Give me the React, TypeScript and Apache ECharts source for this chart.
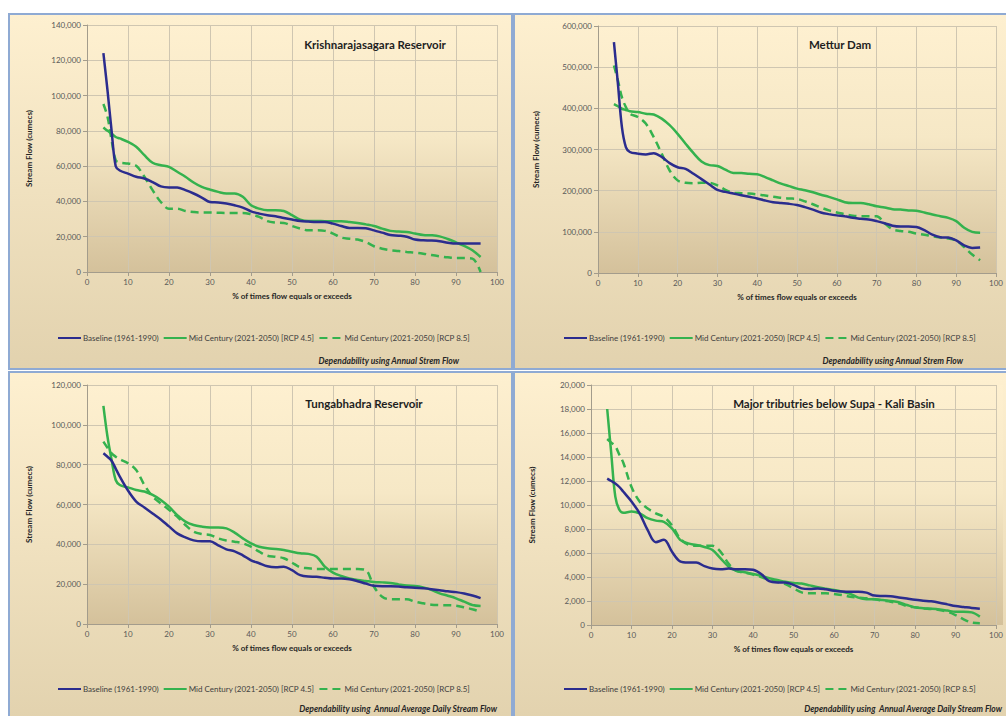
import React, { useEffect, useRef } from "react";
import * as echarts from "echarts";

const XS = [4, 5, 6, 7, 8, 10, 12, 14, 16, 18, 20, 22, 24, 26, 28, 30, 32, 34, 36, 38, 40, 42, 44, 46, 48, 50, 52, 54, 56, 58, 60, 62, 64, 66, 68, 70, 72, 74, 76, 78, 80, 82, 84, 86, 88, 90, 92, 94, 96];

const SERIES_NAMES = ["Baseline (1961-1990)", "Mid Century (2021-2050) [RCP 4.5]", "Mid Century (2021-2050) [RCP 8.5]"];

const TL_TITLE = "Krishnarajasagara Reservoir";
const TL_BASE = [124000, 103000, 80000, 60000, 57500, 55800, 54000, 53000, 51000, 48500, 47900, 47900, 46400, 44500, 42200, 39700, 39400, 38800, 37800, 36500, 34400, 33100, 32200, 31600, 30600, 29700, 28900, 28600, 28400, 28400, 27400, 26100, 25000, 25000, 24800, 23600, 22300, 21000, 20600, 20000, 18400, 18000, 17800, 17400, 16600, 16100, 16100, 16100, 16100];
const TL_RCP45 = [81900, 80000, 78500, 76500, 75700, 73800, 71000, 66200, 61900, 60500, 59600, 56800, 54000, 50700, 48200, 46700, 45400, 44500, 44500, 42600, 37800, 35900, 35000, 35000, 34600, 32200, 29700, 28900, 28900, 28800, 28800, 28800, 28400, 27800, 27000, 26100, 24600, 23300, 22900, 22700, 21800, 21000, 20800, 20200, 18700, 16800, 14800, 12300, 8500];
const TL_RCP85 = [95200, 88000, 74700, 63400, 62000, 61500, 60200, 54000, 46400, 39700, 35900, 35900, 34600, 34000, 33700, 33700, 33600, 33500, 33500, 33500, 32700, 31200, 28800, 28000, 27800, 26100, 24600, 23600, 23600, 23300, 21800, 19500, 18900, 18400, 17000, 14600, 13200, 12300, 11900, 11400, 11000, 10400, 9600, 8900, 8300, 7900, 7900, 7600, 0];

const TR_TITLE = "Mettur Dam";
const TR_BASE = [561000, 460000, 355000, 306000, 294000, 290000, 288000, 291000, 282000, 267000, 257000, 253000, 241000, 228000, 215000, 202000, 197000, 193000, 189000, 185000, 181000, 176000, 172000, 170000, 168000, 165000, 160000, 154000, 147000, 143000, 140000, 138000, 134000, 132000, 130000, 126000, 121000, 115000, 113000, 113000, 112000, 104000, 93000, 87000, 86000, 79000, 67000, 61000, 62000];
const TR_RCP45 = [410000, 405000, 399000, 396000, 393000, 391000, 387000, 385000, 375000, 359000, 338000, 314000, 291000, 271000, 262000, 260000, 251000, 243000, 243000, 241000, 240000, 233000, 225000, 217000, 211000, 205000, 201000, 196000, 190000, 185000, 179000, 172000, 170000, 170000, 167000, 162000, 159000, 155000, 154000, 152000, 151000, 147000, 142000, 138000, 134000, 126000, 110000, 100000, 98000];
const TR_RCP85 = [504000, 468000, 427000, 403000, 387000, 379000, 363000, 330000, 290000, 249000, 225000, 219000, 218000, 219000, 219000, 213000, 202000, 195000, 194000, 193000, 191000, 188000, 185000, 183000, 181000, 180000, 174000, 167000, 159000, 152000, 147000, 143000, 139000, 138000, 138000, 138000, 121000, 106000, 102000, 100000, 96000, 93000, 89000, 86000, 84000, 79000, 63000, 45000, 31000];

const BL_TITLE = "Tungabhadra Reservoir";
const BL_BASE = [85700, 84000, 82000, 78000, 74000, 67000, 61500, 58500, 55500, 52500, 49000, 45500, 43500, 42000, 41500, 41500, 39500, 37500, 36500, 34500, 32000, 30500, 29000, 28500, 28800, 27000, 24500, 23800, 23700, 23200, 22800, 22900, 22500, 21500, 20300, 19200, 19000, 19000, 18800, 18400, 18200, 17900, 17500, 17000, 16400, 16000, 15300, 14300, 13000];
const BL_RCP45 = [109500, 94000, 82400, 72300, 69800, 68600, 67300, 66500, 64800, 62300, 58900, 54700, 51400, 49700, 48900, 48500, 48500, 48000, 45900, 43000, 40500, 38800, 38000, 37700, 37200, 36300, 35500, 35200, 33800, 28800, 25800, 24100, 22900, 22100, 21600, 21100, 20900, 20600, 19900, 19300, 19100, 18400, 17100, 15400, 14200, 12900, 11200, 9500, 9000];
const BL_RCP85 = [91600, 88500, 85700, 84000, 82700, 80700, 77300, 69800, 64000, 60600, 57300, 53900, 49700, 46400, 45200, 44700, 43000, 41900, 41300, 40500, 38800, 36300, 34300, 33800, 33000, 30800, 28500, 28000, 27600, 27600, 27600, 27600, 27600, 27600, 27100, 18700, 13700, 12400, 12400, 12400, 11200, 10400, 9700, 9500, 9400, 9200, 8400, 7400, 6200];

const BR_TITLE = "Major tributries below Supa - Kali Basin";
const BR_BASE = [12200, 12000, 11800, 11500, 11100, 10300, 9300, 7900, 6900, 7100, 6100, 5300, 5200, 5200, 4900, 4700, 4650, 4700, 4650, 4650, 4600, 4250, 3650, 3550, 3550, 3350, 3050, 3000, 3050, 2970, 2860, 2800, 2780, 2780, 2700, 2450, 2420, 2400, 2300, 2200, 2100, 2030, 1970, 1860, 1720, 1580, 1500, 1420, 1360];
const BR_RCP45 = [18000, 14300, 10700, 9600, 9350, 9450, 9300, 8900, 8700, 8600, 8050, 7100, 6800, 6670, 6500, 6250, 5550, 4860, 4500, 4400, 4250, 4100, 3900, 3750, 3600, 3500, 3450, 3300, 3150, 3030, 2920, 2780, 2600, 2280, 2140, 2140, 2080, 2000, 1900, 1670, 1470, 1400, 1360, 1300, 1200, 1100, 1100, 1050, 700];
const BR_RCP85 = [15500, 15200, 14900, 14200, 13500, 11500, 10300, 9700, 9300, 9000, 8300, 7200, 6700, 6600, 6600, 6600, 6100, 5100, 4500, 4360, 4200, 4000, 3750, 3600, 3400, 3050, 2720, 2640, 2640, 2640, 2580, 2500, 2360, 2280, 2220, 2140, 2030, 1940, 1800, 1580, 1470, 1390, 1330, 1250, 1100, 830, 470, 200, 140];

const X_NAME = "% of times flow equals or exceeds";
const Y_NAME = "Stream Flow (cumecs)";
const NOTE_TOP = "Dependability using Annual Strem Flow";
const NOTE_BOTTOM = "Dependability using  Annual Average Daily Stream Flow";

const FONT = "Lato, 'Noto Sans', sans-serif";
const BLUE = "#2B2C8E";
const GREEN = "#34B24E";

type Panel = {
  title: string;
  base: number[];
  r45: number[];
  r85: number[];
  yMax: number;
  yInterval: number;
  grid: { left: number; top: number; width: number; height: number };
  yNameGap: number;
  titlePos: [number, number];
  legendPos: [number, number];
  note: string;
  notePos: [number, number];
  box: [number, number, number, number];
};

const PANELS: Panel[] = [
  { title: TL_TITLE, base: TL_BASE, r45: TL_RCP45, r85: TL_RCP85, yMax: 140000, yInterval: 20000,
    grid: { left: 87, top: 25, width: 410, height: 247 }, yNameGap: 54, titlePos: [375, 44], legendPos: [57, 334],
    note: NOTE_TOP, notePos: [459, 361], box: [9, 14, 503, 355] },
  { title: TR_TITLE, base: TR_BASE, r45: TR_RCP45, r85: TR_RCP85, yMax: 600000, yInterval: 100000,
    grid: { left: 598, top: 26, width: 399, height: 247 }, yNameGap: 58, titlePos: [840, 44], legendPos: [563, 334],
    note: NOTE_TOP, notePos: [963, 361], box: [514, 14, 500, 355] },
  { title: BL_TITLE, base: BL_BASE, r45: BL_RCP45, r85: BL_RCP85, yMax: 120000, yInterval: 20000,
    grid: { left: 87, top: 385, width: 410, height: 239 }, yNameGap: 54, titlePos: [364, 403], legendPos: [57, 685],
    note: NOTE_BOTTOM, notePos: [497, 709], box: [9, 372, 503, 350] },
  { title: BR_TITLE, base: BR_BASE, r45: BR_RCP45, r85: BR_RCP85, yMax: 20000, yInterval: 2000,
    grid: { left: 591, top: 385, width: 412, height: 240 }, yNameGap: 55, titlePos: [834, 403], legendPos: [563, 685],
    note: NOTE_BOTTOM, notePos: [1002, 709], box: [514, 372, 500, 350] },
];

function pairs(vals: number[]) {
  return XS.map((x, i) => [x, vals[i]]);
}

export default function App() {
  const ref = useRef<HTMLDivElement>(null);
  useEffect(() => {
    if (!ref.current) return;
    const chart = echarts.init(ref.current, undefined, { renderer: "svg" });

    const graphics: any[] = [];
    PANELS.forEach((p) => {
      const [bx, by, bw, bh] = p.box;
      graphics.push({
        type: "rect", z: -100, silent: true,
        shape: { x: bx, y: by, width: bw, height: bh },
        style: {
          fill: new echarts.graphic.LinearGradient(0, 0, 0, 1, [
            { offset: 0, color: "#FEF0D0" },
            { offset: 1, color: "#E2D2AE" },
          ]),
          stroke: "#8FAAD3", lineWidth: 2,
        },
      });
      graphics.push({
        type: "rect", z: -90, silent: true,
        shape: { x: p.grid.left, y: p.grid.top, width: p.grid.width, height: p.grid.height },
        style: {
          fill: new echarts.graphic.LinearGradient(0, 0, 0, 1, [
            { offset: 0, color: "#FEF0D0" },
            { offset: 0.45, color: "#F6E8C6" },
            { offset: 1, color: "#D4C19B" },
          ]),
        },
      });
      graphics.push({
        type: "text", z: 10,
        x: p.titlePos[0], y: p.titlePos[1],
        style: { text: p.title, fontFamily: FONT, fontSize: 11.5, fontWeight: "bold", fill: "#1E1E1E", align: "center", verticalAlign: "middle" },
      });
      graphics.push({
        type: "text", z: 10,
        x: p.notePos[0], y: p.notePos[1],
        style: { text: p.note, fontFamily: FONT, fontSize: 8.5, fontWeight: "bold", fontStyle: "italic", fill: "#262626", align: "right", verticalAlign: "middle" },
      });
    });

    const option: any = {
      animation: false,
      backgroundColor: "#FFFFFF",
      textStyle: { fontFamily: FONT },
      graphic: graphics,
      grid: PANELS.map((p) => ({ ...p.grid, containLabel: false })),
      legend: PANELS.map((p) => ({
        left: p.legendPos[0], top: p.legendPos[1],
        orient: "horizontal",
        padding: 0,
        itemWidth: 23, itemHeight: 10, itemGap: 4,
        itemStyle: { opacity: 0 },
        data: SERIES_NAMES,
        textStyle: { fontFamily: FONT, fontSize: 8, color: "#404040", padding: [0, 0, 0, -3] },
        selectedMode: false,
      })),
      xAxis: PANELS.map((p, i) => ({
        type: "value", gridIndex: i, min: 0, max: 100, interval: 10,
        name: X_NAME, nameLocation: "middle", nameGap: 20,
        nameTextStyle: { fontFamily: FONT, fontSize: 8, fontWeight: "bold", color: "#262626" },
        axisLine: { show: true, lineStyle: { color: "#A39C8C", width: 1 } },
        axisTick: { show: true, length: 4, lineStyle: { color: "#A39C8C" } },
        axisLabel: { fontFamily: FONT, fontSize: 8, color: "#595959", margin: 6 },
        splitLine: { show: true, lineStyle: { color: "#CFC6B1", width: 1 } },
      })),
      yAxis: PANELS.map((p, i) => ({
        type: "value", gridIndex: i, min: 0, max: p.yMax, interval: p.yInterval,
        name: Y_NAME, nameLocation: "middle", nameGap: p.yNameGap, nameRotate: 90,
        nameTextStyle: { fontFamily: FONT, fontSize: 8, fontWeight: "bold", color: "#262626" },
        axisLine: { show: true, lineStyle: { color: "#A39C8C", width: 1 } },
        axisTick: { show: true, length: 4, lineStyle: { color: "#A39C8C" } },
        axisLabel: {
          fontFamily: FONT, fontSize: 8, color: "#595959", margin: 6,
          formatter: (v: number) => v.toLocaleString("en-US"),
        },
        splitLine: { show: true, lineStyle: { color: "#CFC6B1", width: 1 } },
      })),
      series: PANELS.flatMap((p, i) => [
        {
          name: SERIES_NAMES[0], type: "line", xAxisIndex: i, yAxisIndex: i,
          data: pairs(p.base), smooth: 0.35, symbol: "none", z: 4,
          lineStyle: { color: BLUE, width: 2.5 }, itemStyle: { color: BLUE },
        },
        {
          name: SERIES_NAMES[1], type: "line", xAxisIndex: i, yAxisIndex: i,
          data: pairs(p.r45), smooth: 0.35, symbol: "none", z: 3,
          lineStyle: { color: GREEN, width: 2.5 }, itemStyle: { color: GREEN },
        },
        {
          name: SERIES_NAMES[2], type: "line", xAxisIndex: i, yAxisIndex: i,
          data: pairs(p.r85), smooth: 0.35, symbol: "none", z: 3,
          lineStyle: { color: GREEN, width: 2.5, type: [8, 5] }, itemStyle: { color: GREEN },
        },
      ]),
    };
    chart.setOption(option);
    return () => chart.dispose();
  }, []);
  return <div ref={ref} style={{ position: "absolute", left: 0, top: 0, width: 1006, height: 716 }} />;
}
